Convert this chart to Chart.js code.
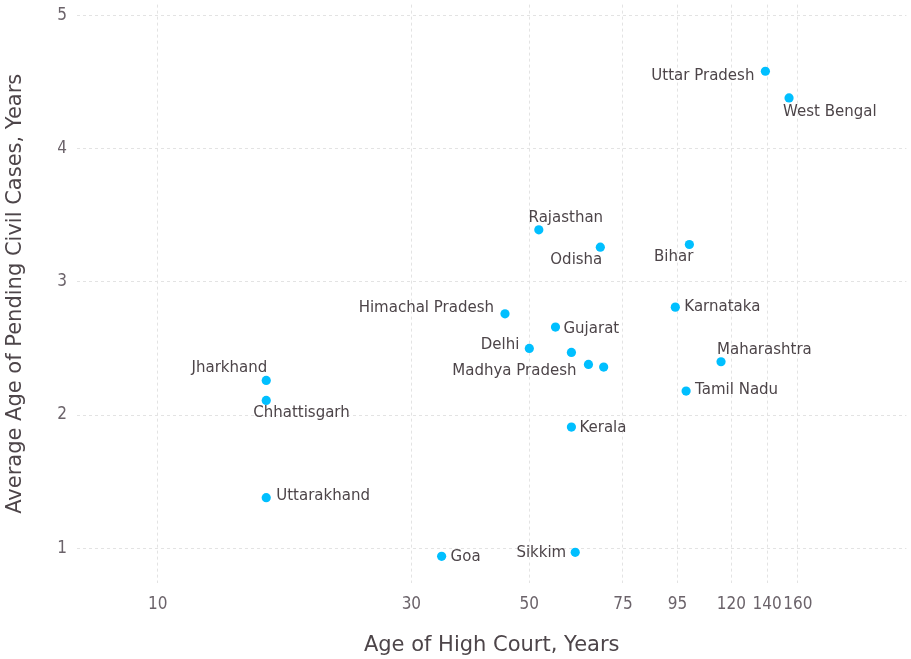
<!DOCTYPE html>
<html lang="en">
<head>
    <meta charset="UTF-8"/>
    <script src="https://cdn.jsdelivr.net/npm/chart.js@4.4.1/dist/chart.umd.min.js"></script>
    <title>high courts</title>
    <style>
        body { margin: 0; background: #fff; }
        #wrap { width: 911px; height: 659px; }
    </style>
</head>
<body>
<div id="wrap">
    <canvas id="myChart" width="911" height="659"></canvas>
</div>
<script>
    // data
    const states = ['Uttar Pradesh', 'West Bengal', 'Rajasthan', 'Odisha', 'Bihar', 'Himachal Pradesh',
        'Karnataka', 'Gujarat', 'Delhi', '', 'Madhya Pradesh', '', 'Maharashtra', 'Tamil Nadu',
        'Jharkhand', 'Chhattisgarh', 'Kerala', 'Uttarakhand', 'Goa', 'Sikkim'];
    const courtAge = [139, 154, 52.1, 68, 100, 45, 94.1, 56, 50, 60, 64.6, 69, 114.7, 98.6,
        16, 16, 60, 16, 34.2, 61];
    const pendingAge = [4.58, 4.38, 3.39, 3.26, 3.28, 2.76, 2.81, 2.66, 2.50, 2.47, 2.38, 2.36, 2.40, 2.18,
        2.26, 2.11, 1.91, 1.38, 0.94, 0.97];
    const xTicks = [10, 30, 50, 75, 95, 120, 140, 160];
    const yTicks = [1, 2, 3, 4, 5];

    // where each label sits next to its point: [dx, dy, align]
    const labelPlace = {
        'Uttar Pradesh': [-11, 5, 'right'],
        'West Bengal': [-6, 14, 'left'],
        'Rajasthan': [27, -12, 'center'],
        'Odisha': [2, 13, 'right'],
        'Bihar': [4, 13, 'right'],
        'Himachal Pradesh': [-11, -6, 'right'],
        'Karnataka': [9, 0, 'left'],
        'Gujarat': [8, 2, 'left'],
        'Delhi': [-10, -3, 'right'],
        'Madhya Pradesh': [-12, 7, 'right'],
        'Maharashtra': [-4, -12, 'left'],
        'Tamil Nadu': [9, -1, 'left'],
        'Jharkhand': [1, -12, 'right'],
        'Chhattisgarh': [-13, 13, 'left'],
        'Kerala': [8, 1, 'left'],
        'Uttarakhand': [10, -2, 'left'],
        'Goa': [9, 1, 'left'],
        'Sikkim': [-9, 1, 'right']
    };

    const FONT = '"DejaVu Sans", Verdana, sans-serif';
    const TICKFONT = '"DejaVu Sans Condensed", "DejaVu Sans", sans-serif';
    const TEXT = '#4d4549';
    const TICK = '#6b636a';
    const GRID = '#e3e3e3';

    const points = courtAge.map((v, i) => ({x: v, y: pendingAge[i]}));

    //labels next to the points
    const pointLabels = {
        id: 'pointLabels',
        afterDatasetsDraw(chart) {
            const ctx = chart.ctx;
            const meta = chart.getDatasetMeta(0);
            ctx.save();
            ctx.font = '15px ' + FONT;
            ctx.fillStyle = TEXT;
            ctx.textBaseline = 'middle';
            meta.data.forEach((pt, i) => {
                const name = states[i];
                if (!name) return;
                const p = labelPlace[name] || [8, 0, 'left'];
                ctx.textAlign = p[2];
                ctx.fillText(name, pt.x + p[0], pt.y + p[1]);
            });
            ctx.restore();
        }
    };

    const ctx = document.getElementById('myChart').getContext('2d');
    const myChart = new Chart(ctx, {
        type: 'scatter',
        data: {
            datasets: [{
                data: points,
                backgroundColor: '#00bfff',
                borderWidth: 0,
                pointRadius: 4.6
            }]
        },
        options: {
            responsive: false,
            animation: false,
            layout: {padding: {top: 4, right: 2, left: 0, bottom: 0}},
            plugins: {
                legend: {display: false},
                tooltip: {enabled: false}
            },
            scales: {
                x: {
                    type: 'logarithmic',
                    min: 7.05,
                    max: 256,
                    afterBuildTicks: (scale) => {
                        scale.ticks = xTicks.map(v => ({value: v}));
                    },
                    afterFit: (scale) => {
                        scale.height = 76;
                        scale.paddingLeft = 0;
                        scale.paddingRight = 0;
                    },
                    ticks: {
                        autoSkip: false,
                        maxRotation: 0,
                        padding: 11,
                        color: TICK,
                        font: {size: 17, family: TICKFONT},
                        callback: (v) => String(v)
                    },
                    grid: {color: GRID, drawTicks: false, lineWidth: 1},
                    border: {display: false, dash: [3, 3]},
                    title: {
                        display: true,
                        text: 'Age of High Court, Years',
                        color: TEXT,
                        font: {size: 21, family: FONT},
                        padding: {top: 0, bottom: 1}
                    }
                },
                y: {
                    min: 0.74,
                    max: 5.08,
                    afterBuildTicks: (scale) => {
                        scale.ticks = yTicks.map(v => ({value: v}));
                    },
                    afterFit: (scale) => {
                        scale.width = 77;
                        scale.paddingTop = 0;
                        scale.paddingBottom = 0;
                    },
                    ticks: {
                        padding: 10,
                        color: TICK,
                        font: {size: 17, family: TICKFONT}
                    },
                    grid: {color: GRID, drawTicks: false, lineWidth: 1},
                    border: {display: false, dash: [3, 3]},
                    title: {
                        display: true,
                        text: 'Average Age of Pending Civil Cases, Years',
                        color: TEXT,
                        font: {size: 21, family: FONT},
                        padding: {top: 3, bottom: 0}
                    }
                }
            }
        },
        plugins: [pointLabels]
    });
</script>
</body>
</html>
